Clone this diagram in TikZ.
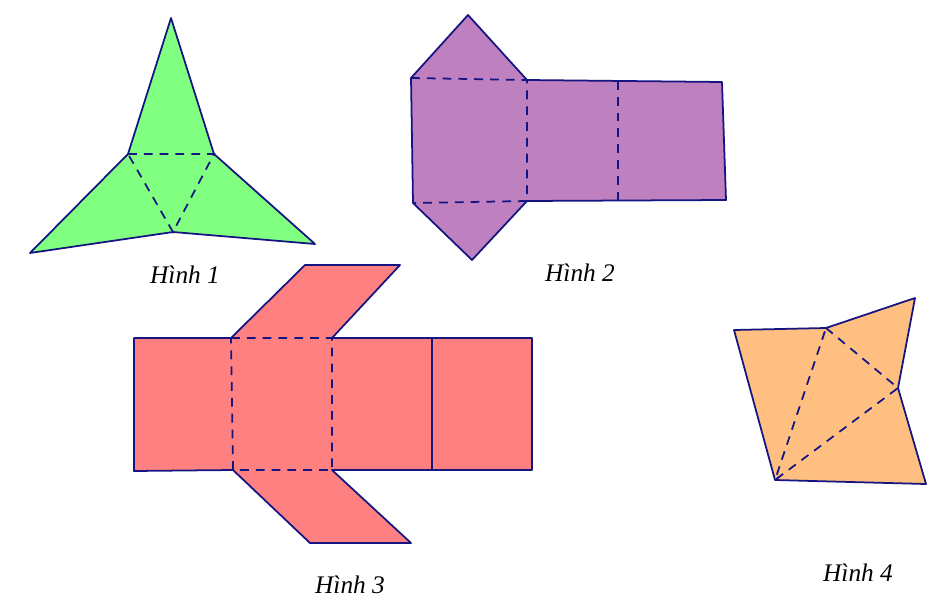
\documentclass[tikz,border=0pt]{standalone}
\usepackage{fontspec}
\setmainfont{Liberation Serif}
\usetikzlibrary{positioning}

\definecolor{edge}{RGB}{20,20,130}
\definecolor{netgreen}{RGB}{128,255,128}
\definecolor{netpurple}{RGB}{191,128,191}
\definecolor{netred}{RGB}{255,128,128}
\definecolor{netorange}{RGB}{255,191,128}

\begin{document}
\begin{tikzpicture}[
    x=0.02cm, y=-0.02cm,
    face/.style={draw=edge, line width=1pt, line join=round},
    fold/.style={draw=edge, line width=1pt, dashed, dash pattern=on 5pt off 4pt},
    caption/.style={font=\itshape\Large}
]
    \useasboundingbox (0,0) rectangle (942,608);

    % Hinh 1
    \filldraw[face, fill=netgreen] (171,18) -- (214,154) -- (315,244) -- (173,232) -- (30,253) -- (128,154) -- cycle;
    \draw[fold] (128,154) -- (214,154) -- (173,232) -- cycle;
    \node[caption] (h1) at (185,275) {Hình 1};

    % Hinh 2
    \filldraw[face, fill=netpurple] (411,78) -- (468,15) -- (527,80) -- (722,82) -- (726,200) -- (527,201) -- (472,260) -- (413,203) -- cycle;
    \draw[fold] (411,78) -- (527,80) -- (527,201) -- (413,203);
    \draw[fold] (618,81) -- (618,200);
    \node[caption] (h2) at (580,273) {Hình 2};

    % Hinh 3
    \filldraw[face, fill=netred] (134,338) -- (231,338) -- (305,265) -- (400,265) -- (332,338) -- (532,338) -- (532,470) -- (332,470) -- (411,543) -- (310,543) -- (233,470) -- (134,471) -- cycle;
    \draw[fold] (231,338) -- (332,338) -- (332,470) -- (233,470) -- cycle;
    \draw[face] (432,338) -- (432,470);
    \node[caption] (h3) at (350,585) {Hình 3};

    % Hinh 4
    \filldraw[face, fill=netorange] (734,330) -- (826,328) -- (915,298) -- (898,388) -- (926,484) -- (775,480) -- cycle;
    \draw[fold] (826,328) -- (898,388) -- (775,480) -- cycle;
    \node[caption] (h4) at (858,573) {Hình 4};
\end{tikzpicture}
\end{document}
